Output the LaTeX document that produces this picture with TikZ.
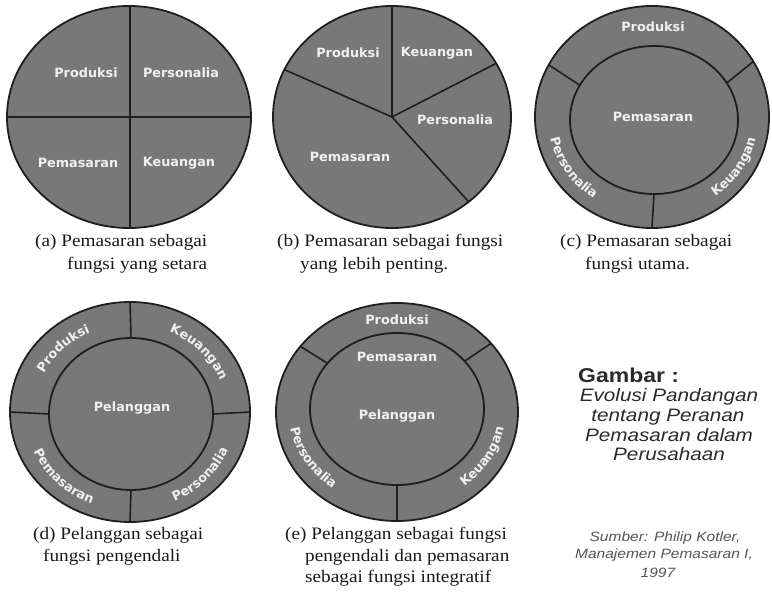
\documentclass[tikz,border=0pt]{standalone}
\usepackage{fontspec}
\setmainfont{Liberation Serif}[FakeStretch=1.1]
\newfontfamily\lblfont{DejaVu Sans}
\newfontfamily\sidefont{Liberation Sans}[FakeStretch=1.15]
\usetikzlibrary{decorations.text,calc}
\definecolor{discfill}{HTML}{787878}
\definecolor{edgecol}{HTML}{1E1E1E}
\definecolor{lblcol}{HTML}{F0F0F0}
\definecolor{captcol}{HTML}{1A1A1A}
\definecolor{sidecol}{HTML}{2A2A2A}
\definecolor{srccol}{HTML}{555555}
\newcommand{\lblfmt}{\lblfont\bfseries\fontsize{12.8}{15}\selectfont}
\begin{document}
\begin{tikzpicture}[x=1pt,y=1pt,
  discbody/.style={fill=discfill},
  rim/.style={draw=edgecol, line width=1.8pt},
  divline/.style={draw=edgecol, line width=1.6pt},
  lbl/.style={text=lblcol, font=\lblfmt, inner sep=0pt},
  capt/.style={text=captcol, font=\fontsize{17.5}{22}\selectfont, anchor=base west, inner sep=0pt},
  sidehead/.style={text=sidecol, font=\sidefont\bfseries\fontsize{20}{22}\selectfont, anchor=base west, inner sep=0pt},
  sideline/.style={text=sidecol, font=\sidefont\itshape\fontsize{18}{20}\selectfont, anchor=base, inner sep=0pt},
  srcline/.style={text=srccol, font=\sidefont\itshape\fontsize{13.5}{16}\selectfont, anchor=base, inner sep=0pt},
  arctext/.style={decorate, decoration={text along path, text align=center, text color=lblcol, text={|\lblfmt|#1}}}
]
\fill[white] (0,0) rectangle (772,598);
\useasboundingbox (0,0) rectangle (772,598);

% ---------- (a) ----------
\coordinate (ca) at (129,481);
\fill[discbody] (ca) ellipse [x radius=122, y radius=111];
\begin{scope}
  \clip (ca) ellipse [x radius=122, y radius=111];
  \coordinate (aT) at (130,600); \coordinate (aB) at (130,360);
  \coordinate (aL) at (0,481);   \coordinate (aR) at (260,481);
  \draw[divline] (aT) -- (aB);
  \draw[divline] (aL) -- (aR);
\end{scope}
\draw[rim] (ca) ellipse [x radius=122, y radius=111];
\node[lbl] (aProd) at (86,525) {Produksi};
\node[lbl] (aPers) at (181,525) {Personalia};
\node[lbl] (aPem)  at (78,435) {Pemasaran};
\node[lbl] (aKeu)  at (179,435) {Keuangan};
\node[capt] (aCap1) at (35,351) {(a) Pemasaran sebagai};
\node[capt] (aCap2) at (67,328) {fungsi yang setara};

% ---------- (b) ----------
\coordinate (cb) at (392,481);
\fill[discbody] (cb) ellipse [x radius=119, y radius=111];
\begin{scope}
  \clip (cb) ellipse [x radius=119, y radius=111];
  \coordinate (bT) at (392,600);
  \coordinate (bUL) at ($(cb)!1.3!(283,529)$);
  \coordinate (bUR) at ($(cb)!1.3!(493,533)$);
  \coordinate (bLR) at ($(cb)!1.3!(468,397)$);
  \draw[divline] (cb) -- (bT);
  \draw[divline] (cb) -- (bUL);
  \draw[divline] (cb) -- (bUR);
  \draw[divline] (cb) -- (bLR);
\end{scope}
\draw[rim] (cb) ellipse [x radius=119, y radius=111];
\node[lbl] (bProd) at (348,545) {Produksi};
\node[lbl] (bKeu)  at (437,545) {Keuangan};
\node[lbl] (bPers) at (455,478) {Personalia};
\node[lbl] (bPem)  at (350,441) {Pemasaran};
\node[capt] (bCap1) at (277,351) {(b) Pemasaran sebagai fungsi};
\node[capt] (bCap2) at (300,328) {yang lebih penting.};

% ---------- (c) ----------
\coordinate (cc) at (652,481);
\coordinate (cci) at (654,478);
\coordinate (ccm) at (653,479.5);
\fill[discbody] (cc) ellipse [x radius=117, y radius=111];
\draw[divline] ($(cc)+(152:117 and 111)$) -- ($(cci)+(152:84 and 74)$);
\draw[divline] ($(cc)+(30:117 and 111)$) -- ($(cci)+(30:84 and 74)$);
\draw[divline] ($(cc)+(270:117 and 111)$) -- ($(cci)+(270:84 and 74)$);
\draw[rim] (cci) ellipse [x radius=84, y radius=74];
\draw[rim] (cc) ellipse [x radius=117, y radius=111];
\node[lbl] (cProd) at (653,571) {Produksi};
\node[lbl] (cPem)  at (653,481) {Pemasaran};
\path[arctext=Personalia] ($(ccm)+(168:105 and 97)$) arc[start angle=168, end angle=258, x radius=105, y radius=97];
\path[arctext=Keuangan] ($(ccm)+(283:105 and 97)$) arc[start angle=283, end angle=373, x radius=105, y radius=97];
\node[capt] (cCap1) at (560,351) {(c) Pemasaran sebagai};
\node[capt] (cCap2) at (585,328) {fungsi utama.};

% ---------- (d) ----------
\coordinate (cd) at (130,186);
\coordinate (cdi) at (131,184);
\coordinate (cdm) at (130.5,185);
\fill[discbody] (cd) ellipse [x radius=120, y radius=110];
\draw[divline] ($(cd)+(90:120 and 110)$) -- ($(cdi)+(90:82 and 76)$);
\draw[divline] ($(cd)+(180:120 and 110)$) -- ($(cdi)+(180:82 and 76)$);
\draw[divline] ($(cd)+(270:120 and 110)$) -- ($(cdi)+(270:82 and 76)$);
\draw[divline] ($(cd)+(0:120 and 110)$) -- ($(cdi)+(0:82 and 76)$);
\draw[rim] (cdi) ellipse [x radius=82, y radius=76];
\draw[rim] (cd) ellipse [x radius=120, y radius=110];
\node[lbl] (dPel) at (132,190) {Pelanggan};
\path[arctext=Produksi] ($(cdm)+(180:96.5 and 88.5)$) arc[start angle=180, end angle=90, x radius=96.5, y radius=88.5];
\path[arctext=Keuangan] ($(cdm)+(88:96.5 and 88.5)$) arc[start angle=88, end angle=-2, x radius=96.5, y radius=88.5];
\path[arctext=Pemasaran] ($(cdm)+(180:105.5 and 97.5)$) arc[start angle=180, end angle=270, x radius=105.5, y radius=97.5];
\path[arctext=Personalia] ($(cdm)+(272:105.5 and 97.5)$) arc[start angle=272, end angle=362, x radius=105.5, y radius=97.5];
\node[capt] (dCap1) at (33,59) {(d) Pelanggan sebagai};
\node[capt] (dCap2) at (43,37) {fungsi pengendali};

% ---------- (e) ----------
\coordinate (ce) at (397,186);
\coordinate (cei) at (397,189);
\coordinate (cem) at (397,187.5);
\fill[discbody] (ce) ellipse [x radius=121, y radius=109];
\draw[divline] ($(ce)+(143:121 and 109)$) -- ($(cei)+(143:87 and 76)$);
\draw[divline] ($(ce)+(39:121 and 109)$) -- ($(cei)+(39:87 and 76)$);
\draw[divline] ($(ce)+(270:121 and 109)$) -- ($(cei)+(270:87 and 76)$);
\draw[rim] (cei) ellipse [x radius=87, y radius=76];
\draw[rim] (ce) ellipse [x radius=121, y radius=109];
\node[lbl] (eProd) at (397,278) {Produksi};
\node[lbl] (ePem)  at (397,241) {Pemasaran};
\node[lbl] (ePel)  at (397,182) {Pelanggan};
\path[arctext=Personalia] ($(cem)+(166:108.5 and 97)$) arc[start angle=166, end angle=256, x radius=108.5, y radius=97];
\path[arctext=Keuangan] ($(cem)+(285:108.5 and 97)$) arc[start angle=285, end angle=375, x radius=108.5, y radius=97];
\node[capt] (eCap1) at (285,59) {(e) Pelanggan sebagai fungsi};
\node[capt] (eCap2) at (305,37) {pengendali dan pemasaran};
\node[capt] (eCap3) at (305,16) {sebagai fungsi integratif};

% ---------- side text ----------
\node[sidehead] (gHead) at (578,215) {Gambar :};
\node[sideline] (g1) at (669,196) {Evolusi Pandangan};
\node[sideline] (g2) at (668,176) {tentang Peranan};
\node[sideline] (g3) at (669,157) {Pemasaran dalam};
\node[sideline] (g4) at (669,138) {Perusahaan};
\node[srcline] (s1) at (665,57) {Sumber: Philip Kotler,};
\node[srcline] (s2) at (664,40) {Manajemen Pemasaran I,};
\node[srcline] (s3) at (658,21) {1997};
\end{tikzpicture}
\end{document}
